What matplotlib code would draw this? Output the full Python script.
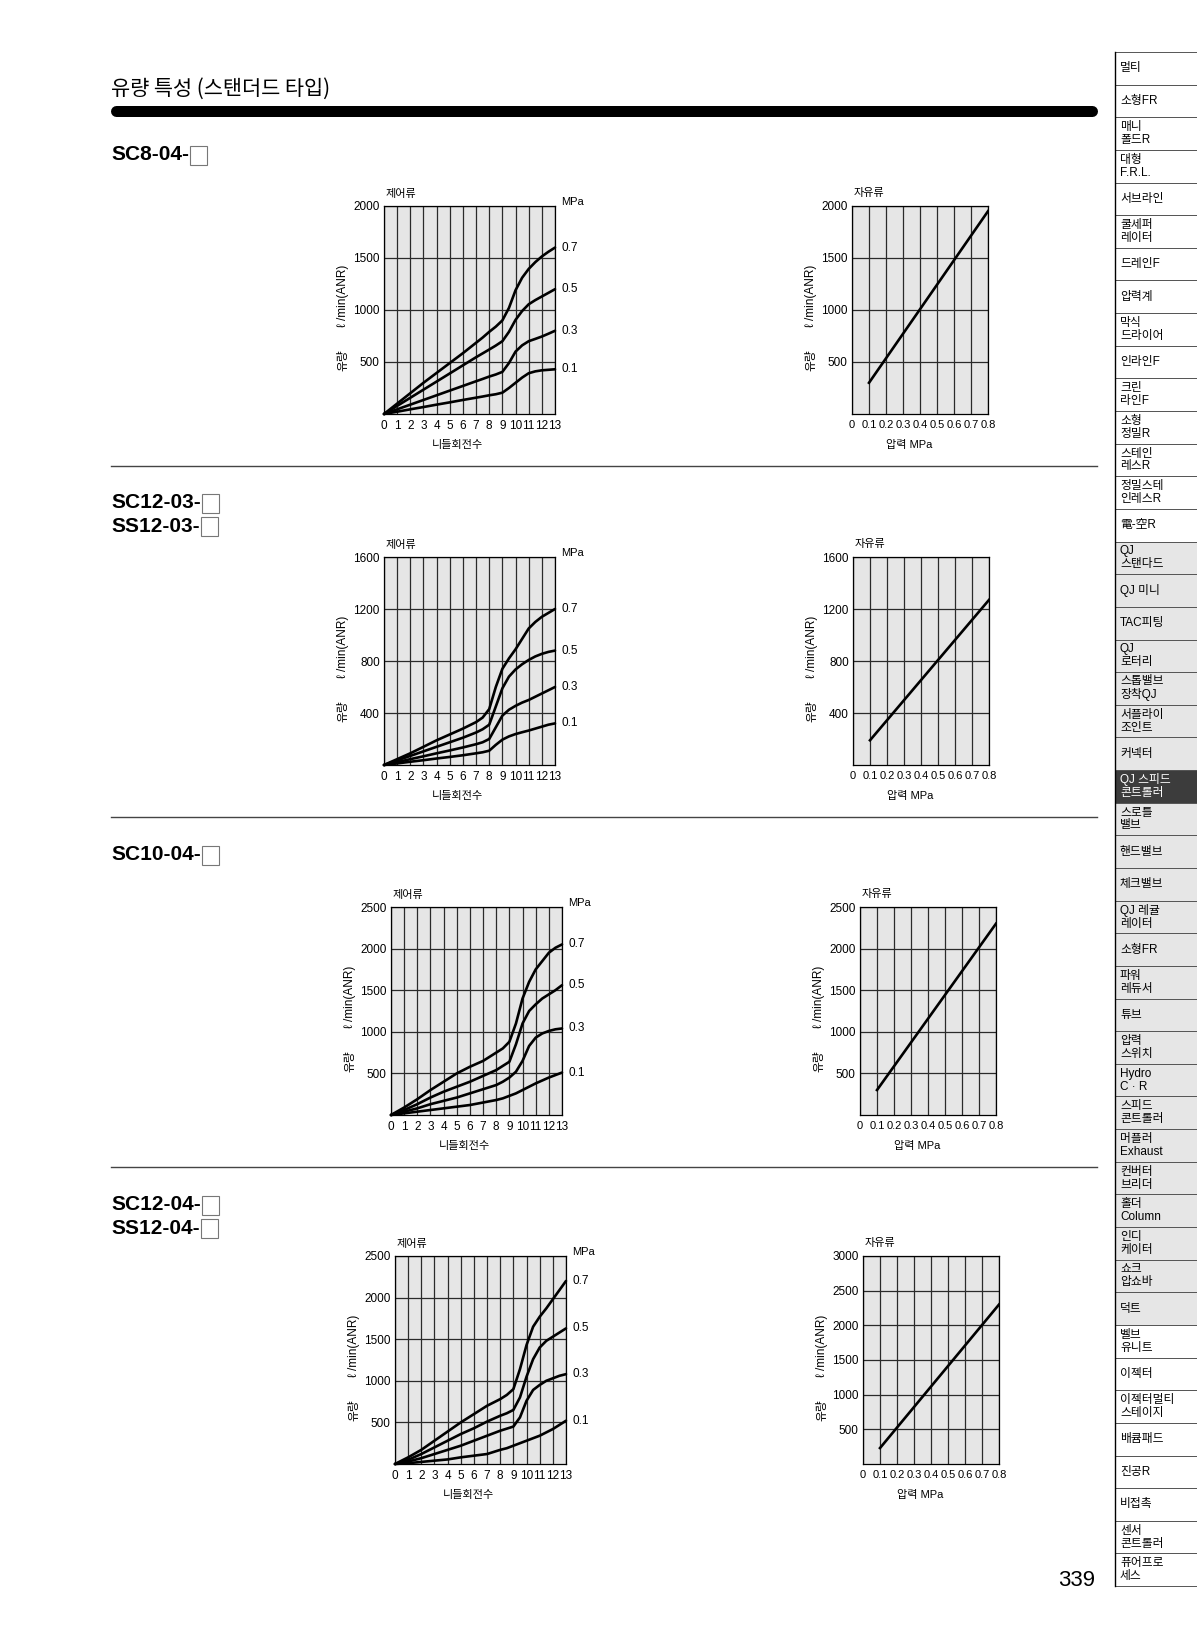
import matplotlib
matplotlib.use('Agg')
import matplotlib.pyplot as plt
from matplotlib.patches import Rectangle

W, H = 1197, 1638
plt.rcParams['font.family'] = ['Liberation Sans', 'Noto Sans CJK KR', 'DejaVu Sans']
NARROW = ['Liberation Sans Narrow', 'Liberation Sans', 'DejaVu Sans']

# ---- data ----
turns = [0, 1, 2, 3, 4, 5, 6, 7, 7.5, 8, 8.5, 9, 9.5, 10, 10.5, 11, 11.5, 12, 12.5, 13]
press_labels = ['0.7', '0.5', '0.3', '0.1']

sc8_07 = [0, 100, 200, 300, 395, 490, 585, 685, 735, 790, 840, 900, 1020, 1190, 1310, 1395, 1460, 1515, 1560, 1600]
sc8_05 = [0, 78, 156, 234, 312, 390, 468, 546, 583, 620, 658, 700, 790, 905, 990, 1055, 1095, 1130, 1165, 1200]
sc8_03 = [0, 45, 90, 135, 180, 225, 270, 315, 337, 360, 380, 405, 490, 600, 660, 700, 722, 745, 772, 800]
sc8_01 = [0, 22, 45, 67, 90, 112, 135, 157, 168, 180, 190, 205, 250, 300, 350, 392, 410, 420, 425, 430]

sc12_03_07 = [0, 45, 90, 140, 190, 235, 280, 330, 365, 430, 600, 740, 820, 890, 970, 1050, 1100, 1140, 1170, 1200]
sc12_03_05 = [0, 35, 70, 105, 140, 175, 210, 250, 275, 310, 450, 590, 680, 735, 775, 808, 835, 855, 870, 880]
sc12_03_03 = [0, 22, 45, 67, 90, 112, 135, 160, 175, 200, 290, 380, 425, 455, 480, 500, 525, 550, 575, 600]
sc12_03_01 = [0, 12, 25, 37, 50, 62, 75, 90, 98, 110, 155, 195, 220, 238, 252, 265, 280, 295, 310, 320]

sc10_07 = [0, 90, 190, 300, 400, 500, 580, 650, 700, 750, 800, 880, 1100, 1400, 1600, 1750, 1850, 1950, 2010, 2050]
sc10_05 = [0, 60, 130, 210, 280, 340, 400, 470, 505, 540, 590, 640, 850, 1100, 1250, 1330, 1400, 1450, 1500, 1560]
sc10_03 = [0, 40, 80, 130, 170, 210, 260, 310, 335, 360, 400, 450, 520, 650, 830, 930, 980, 1010, 1030, 1040]
sc10_01 = [0, 20, 40, 60, 80, 100, 120, 150, 165, 180, 200, 230, 260, 300, 340, 380, 415, 450, 480, 510]

sc12_04_07 = [0, 80, 170, 280, 390, 500, 600, 700, 740, 780, 830, 900, 1140, 1430, 1650, 1770, 1870, 1980, 2090, 2200]
sc12_04_05 = [0, 50, 120, 200, 280, 360, 430, 510, 545, 580, 610, 650, 800, 1050, 1260, 1400, 1480, 1530, 1580, 1630]
sc12_04_03 = [0, 30, 70, 120, 170, 220, 280, 340, 370, 400, 425, 450, 560, 760, 890, 950, 1000, 1030, 1060, 1080]
sc12_04_01 = [0, 10, 25, 40, 55, 80, 100, 120, 145, 170, 190, 220, 250, 280, 310, 340, 380, 420, 470, 520]

free_press = [0.1, 0.8]
sc8_free = [300, 1950]
sc12_03_free = [190, 1270]
sc10_free = [300, 2300]
sc12_04_free = [230, 2300]

model_names = [['SC8-04-'], ['SC12-03-', 'SS12-03-'], ['SC10-04-'], ['SC12-04-', 'SS12-04-']]

side_items = ['멀티', '소형FR', '매니\n폴드R', '대형\nF.R.L.', '서브라인', '쿨세퍼\n레이터', '드레인F',
              '압력계', '막식\n드라이어', '인라인F', '크린\n라인F', '소형\n정밀R', '스테인\n레스R',
              '정밀스테\n인레스R', '電-空R', 'QJ\n스탠다드', 'QJ 미니', 'TAC피팅', 'QJ\n로터리',
              '스톱밸브\n장착QJ', '서플라이\n조인트', '커넥터', 'QJ 스피드\n콘트롤러', '스로틀\n밸브',
              '핸드밸브', '체크밸브', 'QJ 레귤\n레이터', '소형FR', '파워\n레듀서', '튜브', '압력\n스위치',
              'Hydro\nC · R', '스피드\n콘트롤러', '머플러\nExhaust', '컨버터\n브리더', '홀더\nColumn',
              '인디\n케이터', '쇼크\n압쇼바', '덕트', '벨브\n유니트', '이젝터', '이젝터멀티\n스테이지',
              '배큠패드', '진공R', '비접촉', '센서\n콘트롤러', '퓨어프로\n세스']

fig = plt.figure(figsize=(W / 100, H / 100), dpi=100)

# page overlay in pixel coordinates
page = fig.add_axes([0, 0, 1, 1])
page.set_xlim(0, W)
page.set_ylim(H, 0)
page.axis('off')


def add_box(left, top, width, height):
    return fig.add_axes([left / W, 1 - (top + height) / H, width / W, height / H])


def style_axes(ax):
    ax.set_facecolor('#e6e6e6')
    ax.grid(True, color='#2a2a2a', lw=0.9)
    ax.set_axisbelow(True)
    for s in ax.spines.values():
        s.set_color('black')
        s.set_linewidth(0.9)
    ax.tick_params(length=0, labelsize=8.5, pad=3)


def ylabel_parts(left, top):
    page.text(left - 41, top + 90, 'ℓ /min(ANR)', rotation=90, ha='center', va='center', fontsize=8.5)
    page.text(left - 41, top + 154, '유량', rotation=90, ha='center', va='center', fontsize=8.5)


def flow_chart(left, top, ymax, ystep, curves):
    ax = add_box(left, top, 171, 208)
    style_axes(ax)
    ax.set_xlim(0, 13)
    ax.set_ylim(0, ymax)
    ax.set_xticks(range(14))
    ax.set_xticklabels([str(i) for i in range(14)], fontsize=8.5, family=NARROW)
    ax.set_yticks(range(ystep, ymax + 1, ystep))
    ax.tick_params(axis='x', pad=4)
    for vals, lab in zip(curves, press_labels):
        ax.plot(turns, vals, color='black', lw=1.9, solid_capstyle='round', clip_on=False)
        ax.annotate(lab, (13, vals[-1]), xytext=(5, 0), textcoords='offset points',
                    va='center', ha='left', fontsize=8.5, annotation_clip=False)
    page.text(left + 17, top - 12, '제어류', ha='center', va='center', fontsize=8)
    page.text(left + 177, top - 4, 'MPa', ha='left', va='center', fontsize=8)
    page.text(left + 73, top + 239, '니들회전수', ha='center', va='center', fontsize=8)
    ylabel_parts(left, top)


def free_chart(left, top, ymax, ystep, flows):
    ax = add_box(left, top, 136, 208)
    style_axes(ax)
    ax.set_xlim(0, 0.8)
    ax.set_ylim(0, ymax)
    ticks = [i / 10 for i in range(9)]
    ax.set_xticks(ticks)
    ax.set_xticklabels(['0'] + ['%.1f' % t for t in ticks[1:]], fontsize=8, family=NARROW)
    ax.set_yticks(range(ystep, ymax + 1, ystep))
    ax.tick_params(axis='x', pad=4)
    ax.plot(free_press, flows, color='black', lw=1.9)
    page.text(left + 17, top - 13, '자유류', ha='center', va='center', fontsize=8)
    page.text(left + 57, top + 239, '압력 MPa', ha='center', va='center', fontsize=8)
    ylabel_parts(left, top)


flow_chart(384, 206, 2000, 500, [sc8_07, sc8_05, sc8_03, sc8_01])
free_chart(852, 206, 2000, 500, sc8_free)
flow_chart(384, 557, 1600, 400, [sc12_03_07, sc12_03_05, sc12_03_03, sc12_03_01])
free_chart(853, 557, 1600, 400, sc12_03_free)
flow_chart(391, 907, 2500, 500, [sc10_07, sc10_05, sc10_03, sc10_01])
free_chart(860, 907, 2500, 500, sc10_free)
flow_chart(395, 1256, 2500, 500, [sc12_04_07, sc12_04_05, sc12_04_03, sc12_04_01])
free_chart(863, 1256, 3000, 500, sc12_04_free)

# title and bar
page.text(111, 89, '유량 특성 (스탠더드 타입)', ha='left', va='center', fontsize=15,
          family=['Noto Sans CJK KR', 'DejaVu Sans'])
page.plot([116, 1092], [110.5, 110.5], color='black', lw=11 * 0.72, solid_capstyle='round')

# section separators
for y in [466, 817, 1167]:
    page.plot([111, 1097], [y, y], color='#444444', lw=1)

# model labels with empty box
label_y = [[155], [503, 526], [855], [1205, 1228]]
name_texts = []
for names, ys in zip(model_names, label_y):
    for n, y in zip(names, ys):
        t = page.text(111, y, n, ha='left', va='center', fontsize=15, fontweight='bold')
        name_texts.append((t, y))

fig.canvas.draw()
for t, y in name_texts:
    bb = t.get_window_extent()
    page.add_patch(Rectangle((bb.x1 + 1, y - 9.5), 17, 19, fill=False, ec='#777777', lw=0.8))

# sidebar
side_left, side_top, cell_h = 1115, 52, 32.64
for i, name in enumerate(side_items):
    y0 = side_top + i * cell_h
    if i == 22:
        fc, tc = '#3c3c3c', 'white'
    elif 15 <= i <= 38:
        fc, tc = '#e6e6e6', 'black'
    else:
        fc, tc = 'white', 'black'
    page.add_patch(Rectangle((side_left, y0), W - side_left, cell_h, fc=fc, ec='#555555', lw=0.7))
    page.text(side_left + 5, y0 + cell_h / 2, name, ha='left', va='center', fontsize=8.5,
              color=tc, linespacing=1.1)
page.plot([side_left, side_left], [side_top, side_top + len(side_items) * cell_h], color='black', lw=1)

page.text(1077, 1581, '339', ha='center', va='center', fontsize=16)

fig.savefig('out.png', dpi=100)
